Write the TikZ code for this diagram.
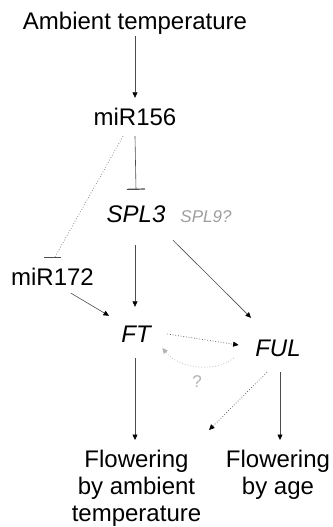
\documentclass[tikz,border=0pt]{standalone}
\usepackage{fontspec}
\setmainfont{Liberation Sans}
\usetikzlibrary{arrows.meta}
\begin{document}
\begin{tikzpicture}[x=1pt,y=-1pt,
  lbl/.style={inner sep=0pt,anchor=base,font=\fontsize{24}{27}\selectfont,text height=17pt,text depth=5pt},
  itl/.style={lbl,font=\itshape\fontsize{24}{27}\selectfont},
  lblml/.style={inner sep=0pt,anchor=north,align=center,font=\fontsize{24}{27}\selectfont},
  grylbl/.style={inner sep=0pt,anchor=base,text=black!38,font=\itshape\fontsize{17}{20}\selectfont},
  ln/.style={draw=black!70,line width=0.6pt},
  arr/.style={ln,-{Triangle[length=5.5pt,width=5pt,color=black]}},
  inh/.style={ln,-{Bar[width=18pt,line width=1.2pt]}},
  dotarr/.style={draw=black!70,line width=0.7pt,dotted,-{Triangle[length=5.5pt,width=5pt,color=black]}},
  grayarr/.style={draw=black!25,line width=0.8pt,dotted,-{Triangle[length=5.5pt,width=5pt,color=black!30]}}
]
\useasboundingbox (0,0) rectangle (332,527);

\node[lbl] (amb) at (135,29.3) {Ambient temperature};
\node[lbl] (mir156) at (135,125) {miR156};
\node[itl] (spl3) at (136,222.7) {SPL3};
\node[grylbl] (spl9) at (206,222.5) {SPL9?};
\node[lbl] (mir172) at (52.5,285) {miR172};
\node[itl] (ft) at (136,342) {FT};
\node[itl] (ful) at (278,356) {FUL};
\node[inner sep=0pt,anchor=base,text=black!30,font=\fontsize{17}{20}\selectfont] (q) at (197,387) {?};
\node[lblml] (flamb) at (136.5,449.5) {Flowering\\by ambient\\temperature};
\node[lblml] (flage) at (278,449.5) {Flowering\\by age};
\coordinate (mid) at (209,430);

% connectors
\draw[arr] ([yshift=-1.7pt]amb.south) -- ([yshift=10pt]mir156.north);
\draw[inh] ([yshift=-6pt]mir156.south) -- ([yshift=15.7pt]spl3.north);
\draw[draw=black!55,line width=0.7pt,dotted] ([xshift=-12pt,yshift=-6pt]mir156.south) -- ([xshift=2pt,yshift=10pt]mir172.north);
\draw[draw=black!70,line width=1.2pt] ([xshift=-8.5pt,yshift=10pt]mir172.north) -- ([xshift=8.5pt,yshift=10pt]mir172.north);
\draw[arr] ([xshift=-1pt,yshift=-17.3pt]spl3.south) -- ([xshift=-1pt,yshift=18pt]ft.north);
\draw[arr] ([xshift=37pt,yshift=-12.3pt]spl3.south) -- ([xshift=-27pt,yshift=21pt]ful.north);
\draw[arr] ([xshift=18.5pt,yshift=-3pt]mir172.south) -- ([xshift=-27pt,yshift=9pt]ft.north);
\draw[dotarr] ([xshift=16.5pt,yshift=2pt]ft.east) -- ([xshift=-16.5pt,yshift=5pt]ful.west);
\draw[grayarr] ([xshift=-21.5pt,yshift=-8pt]ful.west) .. controls (218,372) and (180,370) .. ([xshift=11.5pt,yshift=-12pt]ft.east);
\draw[arr] ([xshift=-1pt,yshift=-11pt]ft.south) -- ([xshift=-1.5pt,yshift=9.5pt]flamb.north);
\draw[arr] ([xshift=2pt,yshift=-11pt]ful.south) -- ([xshift=2pt,yshift=9.5pt]flage.north);
\draw[dotarr] ([xshift=-11pt,yshift=-11pt]ful.south) -- (mid);
\end{tikzpicture}
\end{document}
